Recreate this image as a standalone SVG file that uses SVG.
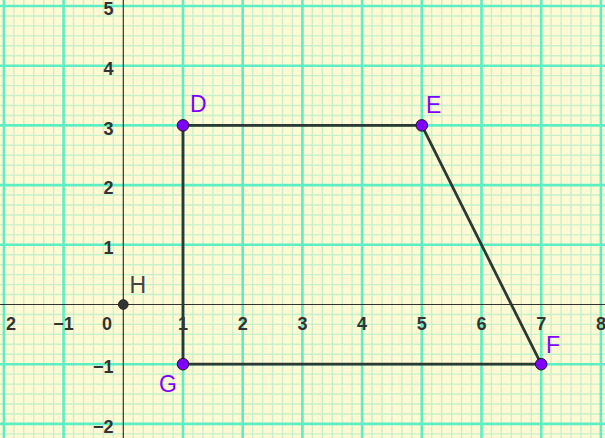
<svg xmlns="http://www.w3.org/2000/svg" width="605" height="438" viewBox="0 0 605 438">
<style>
.minor{stroke:#c6f1cc;stroke-width:1.4;fill:none}
.major{stroke:#5eeec4;stroke-width:2.6;fill:none}
.axis{stroke:#333;stroke-width:1.2;fill:none}
.tick{font-family:"Liberation Sans",Arial,sans-serif;font-size:18px;font-weight:bold;fill:#333}
.tx{text-anchor:middle}
.ty{text-anchor:end}
.edge{stroke:#2e3833;stroke-width:2.8;fill:none;stroke-linecap:round}
.pt{fill:#8000ff;stroke:#1a1a1a;stroke-width:1}
.lbl{font-family:"Liberation Sans",Arial,sans-serif;font-size:23px;fill:#8000ff}
.hpt{fill:#333;stroke:#222;stroke-width:1}
.hlbl{font-family:"Liberation Sans",Arial,sans-serif;font-size:23px;fill:#444}
</style>
<rect width="605" height="438" fill="#fffad3"/>
<path class="minor" d="M3.9 0V438M13.85 0V438M23.8 0V438M33.75 0V438M43.7 0V438M53.65 0V438M63.6 0V438M73.55 0V438M83.5 0V438M93.45 0V438M103.4 0V438M113.35 0V438M133.25 0V438M143.2 0V438M153.15 0V438M163.1 0V438M173.05 0V438M183 0V438M192.95 0V438M202.9 0V438M212.85 0V438M222.8 0V438M232.75 0V438M242.7 0V438M252.65 0V438M262.6 0V438M272.55 0V438M282.5 0V438M292.45 0V438M302.4 0V438M312.35 0V438M322.3 0V438M332.25 0V438M342.2 0V438M352.15 0V438M362.1 0V438M372.05 0V438M382 0V438M391.95 0V438M401.9 0V438M411.85 0V438M421.8 0V438M431.75 0V438M441.7 0V438M451.65 0V438M461.6 0V438M471.55 0V438M481.5 0V438M491.45 0V438M501.4 0V438M511.35 0V438M521.3 0V438M531.25 0V438M541.2 0V438M551.15 0V438M561.1 0V438M571.05 0V438M581 0V438M590.95 0V438M600.9 0V438
M0 6H605M0 15.95H605M0 25.9H605M0 35.85H605M0 45.8H605M0 55.75H605M0 65.7H605M0 75.65H605M0 85.6H605M0 95.55H605M0 105.5H605M0 115.45H605M0 125.4H605M0 135.35H605M0 145.3H605M0 155.25H605M0 165.2H605M0 175.15H605M0 185.1H605M0 195.05H605M0 205H605M0 214.95H605M0 224.9H605M0 234.85H605M0 244.8H605M0 254.75H605M0 264.7H605M0 274.65H605M0 284.6H605M0 294.55H605M0 314.45H605M0 324.4H605M0 334.35H605M0 344.3H605M0 354.25H605M0 364.2H605M0 374.15H605M0 384.1H605M0 394.05H605M0 404H605M0 413.95H605M0 423.9H605M0 433.85H605"/>
<path class="major" d="M3.9 0V438M63.6 0V438M183 0V438M242.7 0V438M302.4 0V438M362.1 0V438M421.8 0V438M481.5 0V438M541.2 0V438M600.9 0V438M0 6H605M0 65.7H605M0 125.4H605M0 185.1H605M0 244.8H605M0 364.2H605M0 423.9H605"/>
<path class="axis" d="M0 304.5H605M123.3 0V438"/>
<g class="tick tx">
<text x="11" y="329.5">2</text>
<text x="63.6" y="329.5">−1</text>
<text x="107" y="329.5">0</text>
<text x="183" y="329.5">1</text>
<text x="242.7" y="329.5">2</text>
<text x="302.4" y="329.5">3</text>
<text x="362.1" y="329.5">4</text>
<text x="421.8" y="329.5">5</text>
<text x="481.5" y="329.5">6</text>
<text x="541.2" y="329.5">7</text>
<text x="600.9" y="329.5">8</text>
</g>
<g class="tick ty">
<text x="113.5" y="15">5</text>
<text x="113.5" y="75">4</text>
<text x="113.5" y="134.7">3</text>
<text x="113.5" y="194.4">2</text>
<text x="113.5" y="254.1">1</text>
<text x="113.5" y="373.3">−1</text>
<text x="113.5" y="432.8">−2</text>
</g>
<g id="connectors">
<path class="edge" d="M183 125.4L421.8 125.4"/>
<path class="edge" d="M421.8 125.4L541.2 364.2"/>
<path class="edge" d="M541.2 364.2L183 364.2"/>
<path class="edge" d="M183 364.2L183 125.4"/>
</g>
<g id="node-D"><circle class="pt" cx="183" cy="125.4" r="5.8"/><text class="lbl" x="190" y="112">D</text></g>
<g id="node-E"><circle class="pt" cx="421.8" cy="125.4" r="5.8"/><text class="lbl" x="426" y="113">E</text></g>
<g id="node-F"><circle class="pt" cx="541.2" cy="364.2" r="5.8"/><text class="lbl" x="546" y="352.5">F</text></g>
<g id="node-G"><circle class="pt" cx="183" cy="364.2" r="5.8"/><text class="lbl" x="159" y="391.5">G</text></g>
<g id="node-H"><circle class="hpt" cx="123.3" cy="304.5" r="4.8"/><text class="hlbl" x="129.5" y="293">H</text></g>
</svg>
